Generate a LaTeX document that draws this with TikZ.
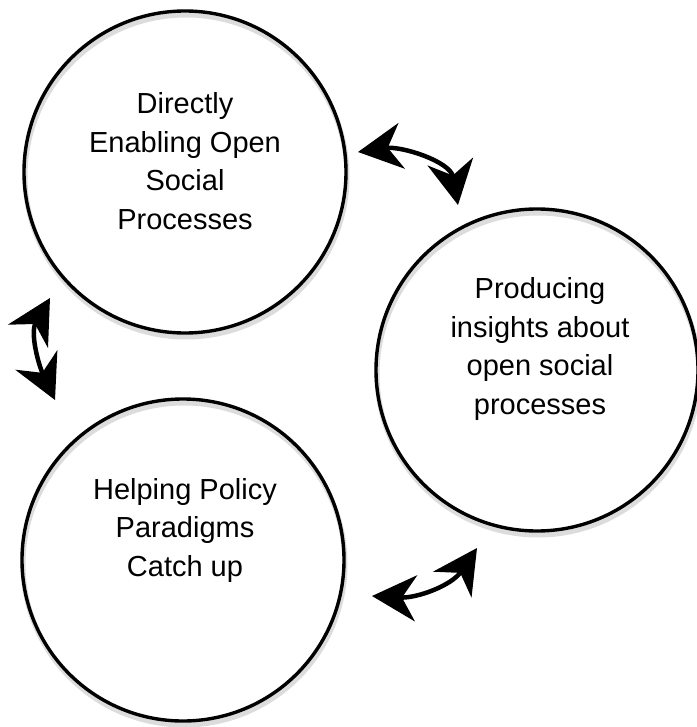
\documentclass[tikz,border=0pt]{standalone}
\usepackage{fontspec}
\setmainfont{Liberation Sans}
\usetikzlibrary{arrows.meta,shadows}
\begin{document}
\begin{tikzpicture}[x=1pt,y=1pt,
  bubble/.style={circle, draw=black, line width=3.4pt, minimum size=322pt, inner sep=0pt,
    general shadow={draw=black!45, line width=5pt, shadow yshift=-4pt, shadow xshift=1pt, opacity=0.3}},
  txt/.style={align=center, font=\fontsize{29}{38.5}\selectfont, text=black},
  biarrow/.style={line width=4.5pt,
    {Stealth[length=44pt,width=46pt,inset=14pt]}-{Stealth[length=44pt,width=46pt,inset=14pt]}}
]
\useasboundingbox (0,0) rectangle (696,-727);
% circles
\node[bubble] (dir) at (185,-172) {};
\node[bubble] (prod) at (537,-370) {};
\node[bubble] (help) at (183,-560) {};
% texts
\node[txt] (tdir) at (185,-161) {Directly\\Enabling Open\\Social\\Processes};
\node[txt] (tprod) at (540,-349) {Producing\\insights about\\open social\\processes};
\node[txt] (thelp) at (185,-530) {Helping Policy\\Paradigms\\Catch up};
% arrow end points
\coordinate (a1) at (358,-152);
\coordinate (a2) at (458,-205);
\coordinate (b1) at (50,-298);
\coordinate (b2) at (55,-400);
\coordinate (c1) at (372,-596);
\coordinate (c2) at (477,-548);
% arrows
\draw[biarrow] (a1) to[out=8, in=100] (a2);
\draw[biarrow] (b1) to[out=240, in=115] (b2);
\draw[biarrow] (c1) to[out=-3, in=236] (c2);
\end{tikzpicture}
\end{document}
